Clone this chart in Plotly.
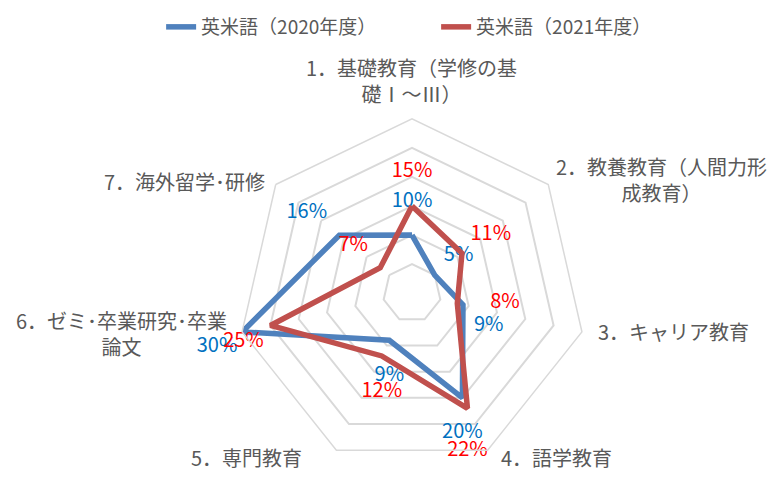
import math
import plotly.graph_objects as go

categories = [
    "1．基礎教育（学修の基<br>礎Ⅰ～Ⅲ）",
    "2．教養教育（人間力形<br>成教育）",
    "3．キャリア教育",
    "4．語学教育",
    "5．専門教育",
    "6．ゼミ･卒業研究･卒業<br>論文",
    "7．海外留学･研修",
]
series_names = ["英米語（2020年度）", "英米語（2021年度）"]
values_2020 = [10, 5, 9, 20, 9, 30, 16]
values_2021 = [15, 11, 8, 22, 12, 25, 7]

# label placement (text position, spacer size) per point
pos_2020 = ["top center", "top right", "bottom right", "bottom center",
            "bottom center", "bottom left", "top left"]
pad_2020 = [35, 13, 16, 38, 40, 6, 18]
pos_2021 = ["top center", "top right", "middle right", "bottom center",
            "bottom center", "bottom left", "top left"]
pad_2021 = [37, 12, 51, 50, 40, 9, 18]

FONT = "Noto Sans CJK JP"
GREY = "#595959"
W, H = 770, 473          # page adds an 8px body margin
CX, CY, R = 404, 279, 180

# category label anchor: xanchor, yanchor, dx, dy (px from the outer vertex)
cat_style = [
    ("center", "bottom", 0, -9),
    ("left", "middle", 1, -5),
    ("left", "middle", 9, 0),
    ("left", "middle", 9, 8),
    ("right", "middle", -30, 8),
    ("right", "middle", -8, 2),
    ("right", "middle", -4, -3),
]


def closed(v):
    return v + v[:1]


fig = go.Figure()
for name, vals, pos, pad, col, tcol in (
    (series_names[0], values_2020, pos_2020, pad_2020, "#4F81BD", "#0070C0"),
    (series_names[1], values_2021, pos_2021, pad_2021, "#C0504D", "#FF0000"),
):
    fig.add_trace(go.Scatterpolar(
        r=closed(vals),
        theta=closed(categories),
        mode="lines+markers+text",
        name=name,
        line=dict(color=col, width=5.5),
        marker=dict(size=closed(pad), color="rgba(0,0,0,0)",
                    line=dict(width=0, color="rgba(0,0,0,0)")),
        text=[f"{v}%" for v in vals] + [""],
        textposition=pos + ["top center"],
        textfont=dict(color=tcol, size=20, family=FONT),
        cliponaxis=False,
        hoverinfo="skip",
    ))

n = len(categories)
for i, (cat, (xa, ya, dx, dy)) in enumerate(zip(categories, cat_style)):
    ang = math.radians(90 - 360 * i / n)
    px = CX + R * math.cos(ang) + dx
    py = CY - R * math.sin(ang) + dy
    fig.add_annotation(x=px / W, y=1 - py / H, xref="paper", yref="paper",
                       text=cat, showarrow=False, xanchor=xa, yanchor=ya,
                       align="center", font=dict(size=20, color=GREY))

fig.update_layout(
    width=W, height=H,
    margin=dict(l=0, r=0, t=0, b=0),
    paper_bgcolor="white",
    font=dict(family=FONT, color=GREY, size=20),
    legend=dict(orientation="h", x=0.556, xanchor="center", y=0.992, yanchor="middle",
                font=dict(size=19, color=GREY), entrywidth=230),
    polar=dict(
        domain=dict(x=[(CX - R) / W, (CX + R) / W],
                    y=[1 - (CY + R) / H, 1 - (CY - R) / H]),
        bgcolor="white",
        gridshape="linear",
        radialaxis=dict(range=[0, 30], dtick=5, showticklabels=False, ticks="",
                        showline=False, gridcolor="#D9D9D9", gridwidth=1.5),
        angularaxis=dict(direction="clockwise", rotation=90, showgrid=False,
                         showticklabels=False,
                         linecolor="#D9D9D9", linewidth=1.5, ticks=""),
    ),
)

fig.write_html("out.html")
